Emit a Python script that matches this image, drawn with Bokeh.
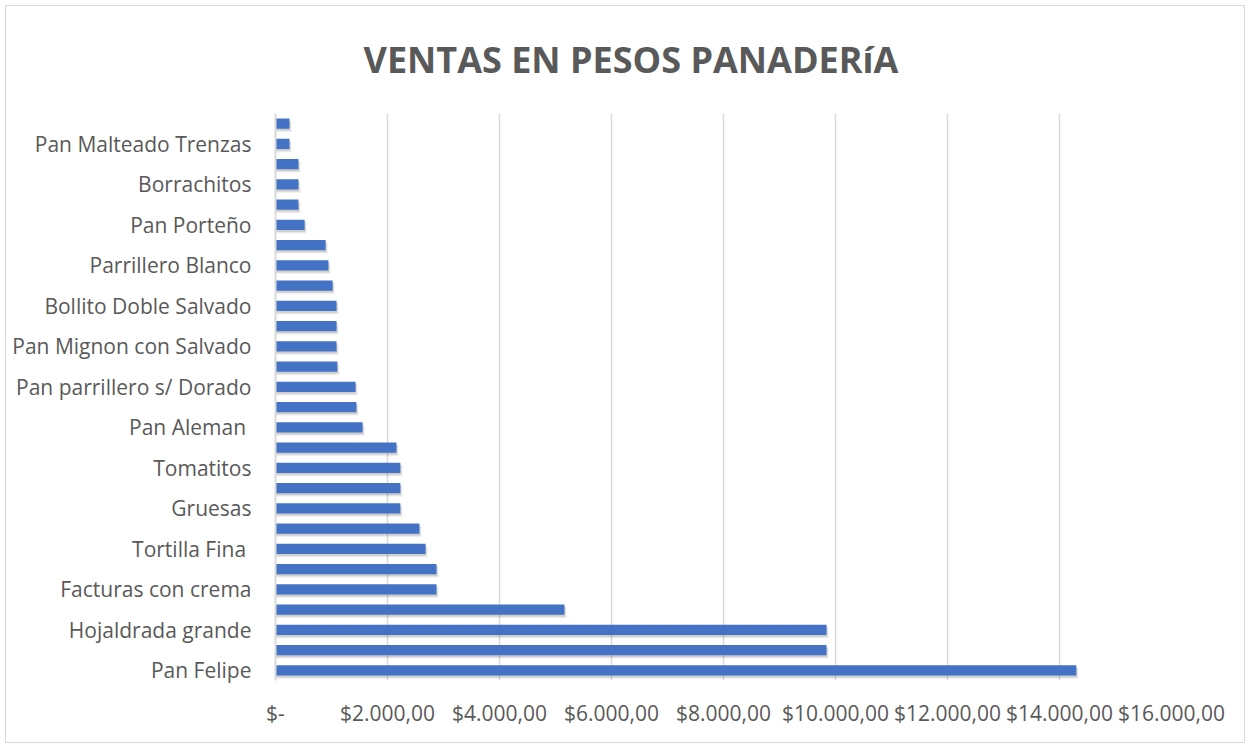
from bokeh.plotting import figure
from bokeh.models import Range1d, FixedTicker, LinearAxis, Grid
from bokeh.embed import file_html
from bokeh.resources import INLINE

# Data (bottom to top); blank names = categories whose labels are hidden in the reference
names = ["Pan Felipe", "", "Hojaldrada grande", "", "Facturas con crema", "",
         "Tortilla Fina ", "", "Gruesas", "", "Tomatitos", "", "Pan Aleman ", "",
         "Pan parrillero s/ Dorado", "", "Pan Mignon con Salvado", "",
         "Bollito Doble Salvado", "", "Parrillero Blanco", "", "Pan Porteño", "",
         "Borrachitos", "", "Pan Malteado Trenzas", ""]
values = [14300, 9840, 9840, 5160, 2875, 2875, 2680, 2570, 2230, 2230, 2230, 2160,
          1555, 1445, 1430, 1105, 1090, 1090, 1090, 1020, 945, 895, 520, 410,
          410, 410, 250, 250]
x_ticks = [0, 2000, 4000, 6000, 8000, 10000, 12000, 14000, 16000]
x_tick_labels = ["$-", "$2.000,00", "$4.000,00", "$6.000,00", "$8.000,00",
                 "$10.000,00", "$12.000,00", "$14.000,00", "$16.000,00"]
title_text = "VENTAS EN PESOS PANADERíA"

W, H = 1240, 738  # content size; 1px border + 5px margin around
FONT = "Open Sans"
GREY = "#595959"

positions = list(range(len(values)))

p = figure(width=W, height=H, output_backend="svg", toolbar_location=None,
           x_range=Range1d(0, 16000), y_range=Range1d(-0.5, len(values) - 0.5),
           min_border_left=269, min_border_right=75,
           min_border_top=106, min_border_bottom=64,
           x_axis_location=None, y_axis_location=None,
           margin=(5, 0, 0, 5),
           styles={"border": "1px solid #d9d9d9"})
p.outline_line_color = None
p.background_fill_color = "white"
p.border_fill_color = "white"

# soft shadow (layered)
for dy, dx, a in [(-0.16, 40, 0.05), (-0.12, 25, 0.07), (-0.08, 10, 0.08)]:
    p.hbar(y=[y + dy for y in positions], left=0, right=[v + dx for v in values],
           height=0.52, color="black", alpha=a, line_color=None)
p.hbar(y=positions, left=0, right=values, height=0.5, fill_color="#4472C4",
       line_color=None)

xaxis = LinearAxis(ticker=FixedTicker(ticks=x_ticks),
                   major_label_overrides={t: l for t, l in zip(x_ticks, x_tick_labels)})
xaxis.axis_line_color = None
xaxis.major_tick_line_color = None
xaxis.minor_tick_line_color = None
xaxis.major_label_text_font = FONT
xaxis.major_label_text_font_size = "21px"
xaxis.major_label_text_color = GREY
xaxis.major_label_standoff = 12
p.add_layout(xaxis, "below")

label_ticks = [i for i, n in enumerate(names) if n]
yaxis = LinearAxis(ticker=FixedTicker(ticks=label_ticks),
                   major_label_overrides={i: names[i] for i in label_ticks})
yaxis.axis_line_color = "#d9d9d9"
yaxis.axis_line_width = 2
yaxis.major_tick_line_color = None
yaxis.minor_tick_line_color = None
yaxis.major_label_text_font = FONT
yaxis.major_label_text_font_size = "21px"
yaxis.major_label_text_color = GREY
yaxis.major_label_standoff = 18
p.add_layout(yaxis, "left")

p.xgrid.grid_line_color = None
p.ygrid.grid_line_color = None
g = Grid(dimension=0, ticker=FixedTicker(ticks=x_ticks[1:]), grid_line_color="#d9d9d9",
         grid_line_width=1.5)
p.add_layout(g)

p.title.text = title_text
p.title.text_font = FONT
p.title.text_font_size = "36px"
p.title.text_font_style = "bold"
p.title.text_color = GREY
p.title.align = "left"
p.title.vertical_align = "top"
p.title.offset = 88
p.title.standoff = 56

open("out.html", "w").write(file_html(p, INLINE))
